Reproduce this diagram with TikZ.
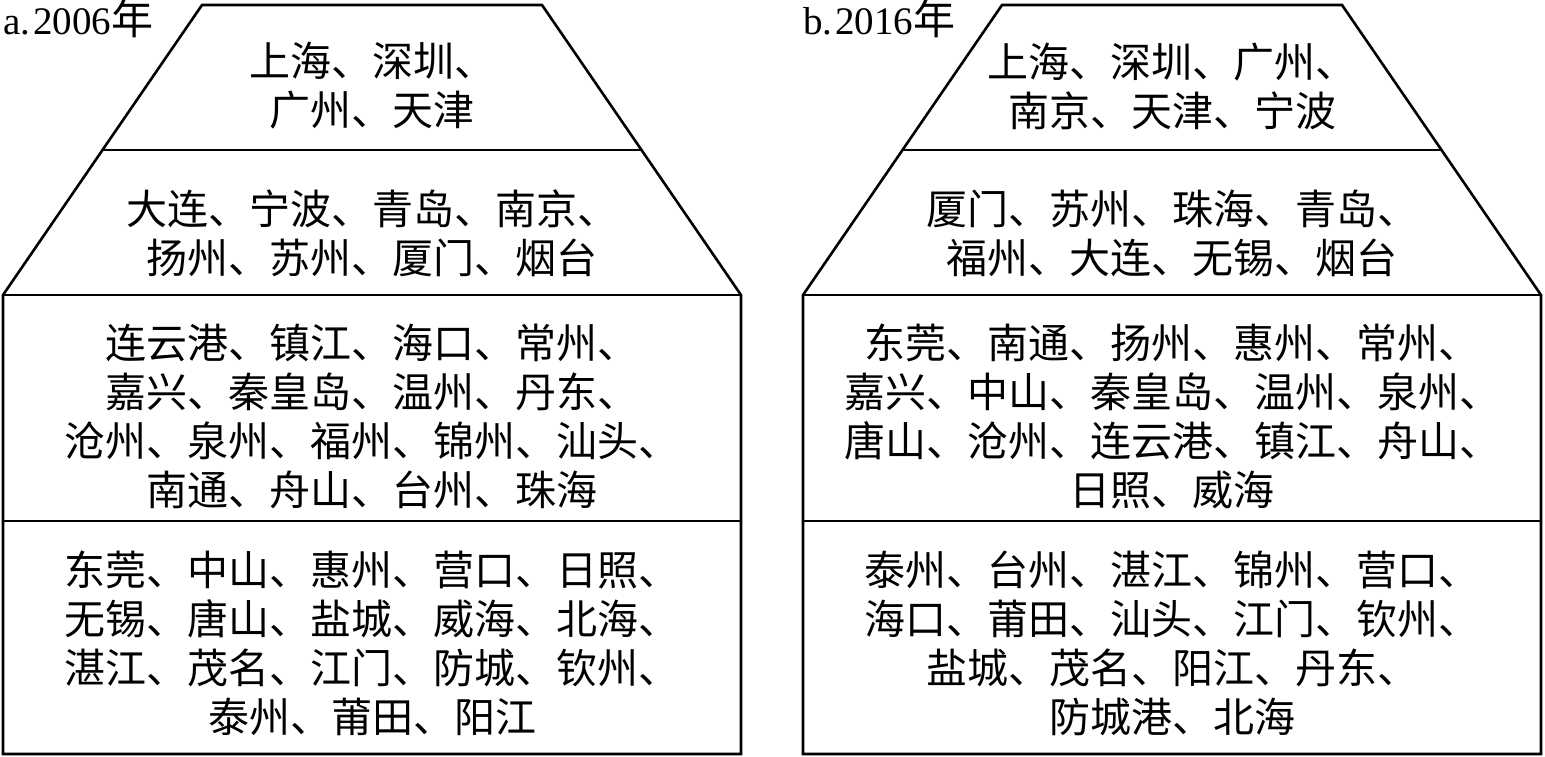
\documentclass[tikz,border=0pt]{standalone}
\usepackage{fontspec}
\setmainfont{Liberation Serif}
\newfontfamily\cjk{Noto Sans CJK SC}
\begin{document}
\begin{tikzpicture}[x=1pt,y=-1pt,
  frame/.style={line width=2.6pt, line join=miter},
  cities/.style={font=\cjk\fontsize{41}{49}\selectfont, align=center, inner sep=0pt},
  yearlabel/.style={anchor=base west, inner sep=0pt, font=\fontsize{39}{40}\selectfont}]
\useasboundingbox (0,0) rectangle (1545,757);
\foreach \dx/\nm in {0/a, 800/b}{
  \begin{scope}[xshift=\dx pt]
    \coordinate (\nm tl) at (202,5);
    \coordinate (\nm tr) at (542,5);
    \coordinate (\nm ml) at (103,150);
    \coordinate (\nm mr) at (642,150);
    \coordinate (\nm bl) at (3,295);
    \coordinate (\nm br) at (741,295);
    \coordinate (\nm dl) at (3,521);
    \coordinate (\nm dr) at (741,521);
    \coordinate (\nm el) at (3,754);
    \coordinate (\nm er) at (741,754);
    \draw[frame] (\nm tl) -- (\nm tr) -- (\nm br) -- (\nm er) -- (\nm el) -- (\nm bl) -- cycle;
    \draw[frame] (\nm ml) -- (\nm mr);
    \draw[frame] (\nm bl) -- (\nm br);
    \draw[frame] (\nm dl) -- (\nm dr);
  \end{scope}
}
\node[yearlabel] (la) at (3,35) {a.\kern3pt 2006{\cjk\fontsize{42}{42}\selectfont 年}};
\node[yearlabel] (lb) at (803,35) {b.\kern3pt 2016{\cjk\fontsize{42}{42}\selectfont 年}};

\node[cities] (a1) at (372,86) {上海、深圳、\\广州、天津};
\node[cities] (a2) at (372,233) {大连、宁波、青岛、南京、\\扬州、苏州、厦门、烟台};
\node[cities] (a3) at (372,416) {连云港、镇江、海口、常州、\\嘉兴、秦皇岛、温州、丹东、\\沧州、泉州、福州、锦州、汕头、\\南通、舟山、台州、珠海};
\node[cities] (a4) at (372,643) {东莞、中山、惠州、营口、日照、\\无锡、唐山、盐城、威海、北海、\\湛江、茂名、江门、防城、钦州、\\泰州、莆田、阳江};

\node[cities] (b1) at (1172,86) {上海、深圳、广州、\\南京、天津、宁波};
\node[cities] (b2) at (1172,233) {厦门、苏州、珠海、青岛、\\福州、大连、无锡、烟台};
\node[cities] (b3) at (1172,416) {东莞、南通、扬州、惠州、常州、\\嘉兴、中山、秦皇岛、温州、泉州、\\唐山、沧州、连云港、镇江、舟山、\\日照、威海};
\node[cities] (b4) at (1172,643) {泰州、台州、湛江、锦州、营口、\\海口、莆田、汕头、江门、钦州、\\盐城、茂名、阳江、丹东、\\防城港、北海};
\end{tikzpicture}
\end{document}
